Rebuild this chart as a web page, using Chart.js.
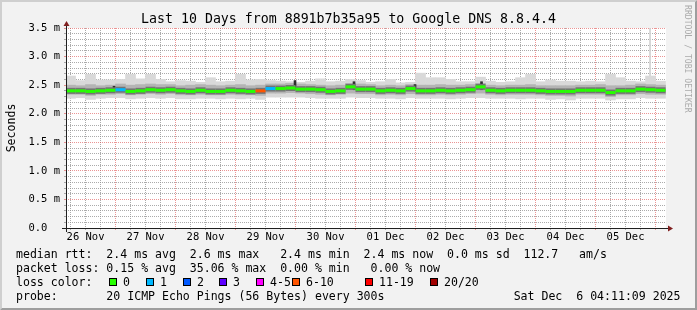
<!DOCTYPE html>
<html>
<head>
<meta charset="utf-8">
<title>Last 10 Days from 8891b7b35a95 to Google DNS 8.8.4.4</title>
<script src="https://cdn.jsdelivr.net/npm/chart.js@4.4.1/dist/chart.umd.min.js"></script>
<style>
  html, body { margin: 0; padding: 0; background: #f2f2f2; }
</style>
</head>
<body>
<canvas id="smoke-chart" width="697" height="310"></canvas>
<script>
const MONO = '"DejaVu Sans Mono", monospace';

// hours since 26 Nov 00:00, one sample per 4 h block
const sampleHours = [6, 10, 14, 18, 22, 26, 30, 34, 38, 42, 46, 50, 54, 58, 62, 66, 70, 74, 78, 82,
  86, 90, 94, 98, 102, 106, 110, 114, 118, 122, 126, 130, 134, 138, 142, 146, 150, 154, 158, 162,
  166, 170, 174, 178, 182, 186, 190, 194, 198, 202, 206, 210, 214, 218, 222, 226, 230, 234, 238, 242];

// median rtt in ms
const medianRtt = [2.40, 2.40, 2.39, 2.40, 2.41, 2.42, 2.39, 2.40, 2.42, 2.41,
  2.42, 2.40, 2.39, 2.41, 2.39, 2.39, 2.41, 2.40, 2.39, 2.40,
  2.44, 2.44, 2.45, 2.43, 2.43, 2.42, 2.39, 2.40, 2.47, 2.43,
  2.43, 2.40, 2.41, 2.40, 2.44, 2.40, 2.40, 2.41, 2.40, 2.41,
  2.42, 2.47, 2.41, 2.40, 2.41, 2.41, 2.41, 2.40, 2.39, 2.39,
  2.39, 2.41, 2.41, 2.41, 2.37, 2.40, 2.40, 2.43, 2.42, 2.41];

// lost pings out of 20
const lossPings = [0, 0, 0, 0, 0, 1, 0, 0, 0, 0,
  0, 0, 0, 0, 0, 0, 0, 0, 0, 7,
  1, 0, 0, 0, 0, 0, 0, 0, 0, 0,
  0, 0, 0, 0, 0, 0, 0, 0, 0, 0,
  0, 0, 0, 0, 0, 0, 0, 0, 0, 0,
  0, 0, 0, 0, 0, 0, 0, 0, 0, 0];

// smoke: slowest / fastest pings and the inner quartiles (ms)
const smokeTop = [2.66, 2.58, 2.69, 2.59, 2.59, 2.60, 2.69, 2.61, 2.69, 2.60,
  2.56, 2.58, 2.57, 2.55, 2.63, 2.56, 2.57, 2.69, 2.59, 2.60,
  2.58, 2.57, 2.56, 2.55, 2.57, 2.61, 2.56, 2.57, 2.60, 2.58,
  2.55, 2.56, 2.60, 2.54, 2.55, 2.71, 2.63, 2.63, 2.60, 2.56,
  2.56, 2.64, 2.57, 2.55, 2.56, 2.63, 2.69, 2.56, 2.59, 2.57,
  2.57, 2.56, 2.57, 2.56, 2.69, 2.63, 2.57, 2.56, 2.66, 2.57];
const smokeUpper = [2.50, 2.49, 2.51, 2.49, 2.50, 2.52, 2.50, 2.51, 2.52, 2.51,
  2.51, 2.49, 2.50, 2.51, 2.50, 2.49, 2.50, 2.51, 2.49, 2.50,
  2.52, 2.52, 2.53, 2.52, 2.51, 2.50, 2.49, 2.50, 2.53, 2.52,
  2.51, 2.49, 2.50, 2.49, 2.51, 2.50, 2.50, 2.51, 2.50, 2.50,
  2.51, 2.53, 2.50, 2.49, 2.50, 2.50, 2.51, 2.49, 2.49, 2.49,
  2.49, 2.50, 2.50, 2.51, 2.49, 2.49, 2.50, 2.52, 2.51, 2.50];
const smokeLower = [2.34, 2.34, 2.32, 2.34, 2.34, 2.35, 2.33, 2.34, 2.35, 2.34,
  2.35, 2.33, 2.33, 2.34, 2.33, 2.33, 2.34, 2.33, 2.33, 2.32,
  2.36, 2.36, 2.37, 2.36, 2.35, 2.34, 2.33, 2.34, 2.36, 2.35,
  2.35, 2.33, 2.34, 2.33, 2.35, 2.33, 2.33, 2.34, 2.33, 2.34,
  2.35, 2.36, 2.34, 2.33, 2.34, 2.34, 2.34, 2.33, 2.32, 2.32,
  2.31, 2.34, 2.34, 2.34, 2.30, 2.33, 2.33, 2.35, 2.34, 2.34];
const smokeBottom = [2.27, 2.28, 2.25, 2.27, 2.28, 2.28, 2.26, 2.27, 2.28, 2.27,
  2.28, 2.26, 2.26, 2.27, 2.27, 2.26, 2.27, 2.26, 2.27, 2.25,
  2.29, 2.29, 2.29, 2.29, 2.28, 2.27, 2.27, 2.27, 2.29, 2.28,
  2.28, 2.27, 2.27, 2.26, 2.28, 2.27, 2.27, 2.27, 2.26, 2.27,
  2.28, 2.28, 2.27, 2.27, 2.27, 2.26, 2.27, 2.27, 2.25, 2.26,
  2.24, 2.27, 2.27, 2.27, 2.24, 2.26, 2.26, 2.28, 2.27, 2.27];

// short dark jumps of the ping cluster
const spikeHours = [23.4, 95.8, 119.4, 143.8, 170.4];
const spikeBase = [2.40, 2.43, 2.42, 2.40, 2.42];
const spikeTop = [2.48, 2.58, 2.56, 2.51, 2.56];

// single slow ping on 05 Dec
const outlierHours = [237.8];
const outlierBase = [2.62];
const outlierTop = [3.5];

const dayLabels = ['26 Nov', '27 Nov', '28 Nov', '29 Nov', '30 Nov', '01 Dec', '02 Dec', '03 Dec', '04 Dec', '05 Dec'];
const yTickLabels = ['0.0  ', '0.5 m', '1.0 m', '1.5 m', '2.0 m', '2.5 m', '3.0 m', '3.5 m'];
const lossLabels = ['0', '1', '2', '3', '4-5', '6-10', '11-19', '20/20'];
const lossColors = ['#26ff00', '#00b8ff', '#0059ff', '#5e00ff', '#ff00ff', '#ff5500', '#ff0000', '#a10000'];
const statLines = [
  'median rtt:  2.4 ms avg  2.6 ms max   2.4 ms min  2.4 ms now  0.0 ms sd  112.7   am/s',
  'packet loss: 0.15 % avg  35.06 % max  0.00 % min   0.00 % now'
];
const probeLine = 'probe:       20 ICMP Echo Pings (56 Bytes) every 300s';
const stampLine = 'Sat Dec  6 04:11:09 2025';

const GRID = 'rgba(143,143,143,0.75)';
const MGRID = 'rgba(222,79,79,0.6)';

function lossBucket(n) {
  if (n <= 3) return n;
  if (n <= 5) return 4;
  if (n <= 10) return 5;
  if (n <= 19) return 6;
  return 7;
}

const medianPts = sampleHours.map((h, i) => ({x: h, y: medianRtt[i]}));
const midPts = sampleHours.map((h, i) => ({x: h, y: [smokeLower[i], smokeUpper[i]]}));
const outerPts = sampleHours.map((h, i) => ({x: h, y: [smokeBottom[i], smokeTop[i]]}));
const spikePts = spikeHours.map((h, i) => ({x: h, y: [spikeBase[i], spikeTop[i]]}));
const outlierPts = outlierHours.map((h, i) => ({x: h, y: [outlierBase[i], outlierTop[i]]}));

// rrdtool style frame, axes, arrows and the text block under the graph
const rrdDecor = {
  id: 'rrdDecor',
  beforeDraw(chart) {
    const {ctx, width: W, height: H, chartArea: a} = chart;
    ctx.save();
    ctx.fillStyle = '#f2f2f2';
    ctx.fillRect(0, 0, W, H);
    ctx.fillStyle = '#cfcfcf';
    ctx.beginPath();
    ctx.moveTo(0, H); ctx.lineTo(2, H - 2); ctx.lineTo(2, 2); ctx.lineTo(W - 2, 2); ctx.lineTo(W, 0); ctx.lineTo(0, 0);
    ctx.closePath(); ctx.fill();
    ctx.fillStyle = '#9e9e9e';
    ctx.beginPath();
    ctx.moveTo(2, H - 2); ctx.lineTo(W - 2, H - 2); ctx.lineTo(W - 2, 2); ctx.lineTo(W, 0); ctx.lineTo(W, H); ctx.lineTo(0, H);
    ctx.closePath(); ctx.fill();
    ctx.fillStyle = '#ffffff';
    ctx.fillRect(a.left, a.top, a.right - a.left, a.bottom - a.top);
    ctx.restore();
  },
  afterDraw(chart) {
    const {ctx, chartArea: a} = chart;
    const xo = a.left, yo = a.bottom;
    ctx.save();
    // axis lines
    ctx.strokeStyle = '#1f1f1f';
    ctx.lineWidth = 1;
    ctx.beginPath();
    ctx.moveTo(xo - 4, yo + 0.5); ctx.lineTo(a.right + 4, yo + 0.5);
    ctx.moveTo(xo + 0.5, yo + 4); ctx.lineTo(xo + 0.5, a.top - 4);
    ctx.stroke();
    // arrows
    ctx.fillStyle = '#801f1f';
    ctx.beginPath();
    ctx.moveTo(a.right + 2, yo - 2.5); ctx.lineTo(a.right + 2, yo + 3.5); ctx.lineTo(a.right + 7, yo + 0.5);
    ctx.closePath(); ctx.fill();
    ctx.beginPath();
    ctx.moveTo(xo - 2.5, a.top - 2); ctx.lineTo(xo + 3.5, a.top - 2); ctx.lineTo(xo + 0.5, a.top - 7);
    ctx.closePath(); ctx.fill();

    // legend text
    ctx.font = '11.55px ' + MONO;
    ctx.fillStyle = '#000';
    ctx.textBaseline = 'alphabetic';
    ctx.textAlign = 'left';
    ctx.fillText(statLines[0], 16, 257.5);
    ctx.fillText(statLines[1], 16, 271.8);
    ctx.fillText('loss color:', 16, 286.1);
    const boxX = [109, 146, 183, 219, 256, 292, 365, 430];
    lossLabels.forEach((lab, i) => {
      ctx.fillStyle = lossColors[i];
      ctx.fillRect(boxX[i], 278, 8, 8);
      ctx.strokeStyle = '#000';
      ctx.strokeRect(boxX[i] + 0.5, 278.5, 7, 7);
      ctx.fillStyle = '#000';
      ctx.fillText(lab, boxX[i] + 14, 286.1);
    });
    ctx.fillText(probeLine, 16, 300.4);
    ctx.textAlign = 'right';
    ctx.fillText(stampLine, 680.5, 300.4);

    // watermark
    ctx.translate(687, 5);
    ctx.rotate(Math.PI / 2);
    ctx.textAlign = 'left';
    ctx.textBaseline = 'middle';
    ctx.font = '8.15px ' + MONO;
    ctx.fillStyle = '#ababab';
    ctx.fillText('RRDTOOL / TOBI OETIKER', 0, 0);
    ctx.restore();
  }
};

Chart.defaults.font.family = MONO;

new Chart(document.getElementById('smoke-chart').getContext('2d'), {
  type: 'bar',
  data: {
    datasets: [
      {
        type: 'line', label: 'median rtt', data: medianPts, order: 0,
        showLine: false, pointStyle: 'line', pointRadius: 5, pointHoverRadius: 5, pointBorderWidth: 3,
        pointBorderColor: ctx => lossColors[lossBucket(lossPings[ctx.dataIndex] || 0)]
      },
      {
        type: 'line', label: 'median shade', data: medianPts, order: 1,
        showLine: false, pointStyle: 'line', pointRadius: 5, pointHoverRadius: 5, pointBorderWidth: 6,
        pointBorderColor: '#747474'
      },
      { label: 'jumps', data: spikePts, order: 2, backgroundColor: '#2e2e2e', barThickness: 2, grouped: false, borderWidth: 0 },
      { label: 'smoke inner', data: midPts, order: 3, backgroundColor: '#b4b4b4', barThickness: 10, grouped: false, borderWidth: 0 },
      { label: 'smoke outer', data: outerPts, order: 4, backgroundColor: '#d9d9d9', barThickness: 10, grouped: false, borderWidth: 0 },
      { label: 'outlier', data: outlierPts, order: 5, backgroundColor: '#d2d2d2', barThickness: 1, grouped: false, borderWidth: 0 }
    ]
  },
  options: {
    responsive: false,
    animation: false,
    events: [],
    plugins: {
      legend: { display: false },
      tooltip: { enabled: false },
      title: {
        display: true,
        text: 'Last 10 Days from 8891b7b35a95 to Google DNS 8.8.4.4',
        color: '#000',
        font: { family: MONO, size: 13.25, weight: 'normal', lineHeight: 1.2 },
        padding: { top: 12, bottom: 0.1 }
      }
    },
    scales: {
      x: {
        type: 'linear',
        min: 4.19,
        max: 244.19,
        offset: false,
        z: 1,
        afterFit: s => { s.height = 82; },
        afterBuildTicks: s => {
          const t = [];
          for (let h = 6; h < 244; h += 6) t.push({ value: h });
          s.ticks = t;
        },
        border: { display: false, dash: [1, 1] },
        grid: {
          offset: false,
          color: ctx => (ctx.tick && ctx.tick.value % 24 === 0) ? MGRID : GRID,
          tickColor: ctx => (ctx.tick && ctx.tick.value % 24 === 0) ? MGRID : GRID,
          tickBorderDash: [],
          tickLength: 2
        },
        ticks: {
          autoSkip: false,
          maxRotation: 0,
          minRotation: 0,
          padding: 1,
          color: '#000',
          font: { family: MONO, size: 10.5 },
          callback: v => (v % 24 === 12) ? dayLabels[(v - 12) / 24] : ''
        }
      },
      y: {
        min: 0,
        max: 3.5,
        z: 1,
        afterFit: s => { s.width = 66; },
        afterBuildTicks: s => {
          const t = [];
          for (let i = 0; i <= 35; i++) t.push({ value: i / 10 });
          s.ticks = t;
        },
        border: { display: false, dash: [1, 1] },
        grid: {
          color: ctx => (ctx.tick && Math.round(ctx.tick.value * 10) % 5 === 0) ? MGRID : GRID,
          tickColor: ctx => (ctx.tick && Math.round(ctx.tick.value * 10) % 5 === 0) ? MGRID : GRID,
          tickBorderDash: [],
          tickLength: 2
        },
        ticks: {
          autoSkip: false,
          padding: 4,
          color: '#000',
          font: { family: MONO, size: 10.5 },
          callback: v => {
            const i = Math.round(v * 10);
            return i % 5 === 0 ? yTickLabels[i / 5] : '';
          }
        },
        title: {
          display: true,
          text: 'Seconds',
          color: '#000',
          font: { family: MONO, size: 11.55 },
          padding: { top: 4.7, bottom: 0 }
        }
      },
      // empty right-hand strip that keeps the plot 600 px wide
      rightGap: {
        type: 'linear',
        position: 'right',
        display: true,
        afterFit: s => { s.width = 31; },
        grid: { display: false },
        border: { display: false },
        ticks: { display: false }
      }
    }
  },
  plugins: [rrdDecor]
});
</script>
</body>
</html>
